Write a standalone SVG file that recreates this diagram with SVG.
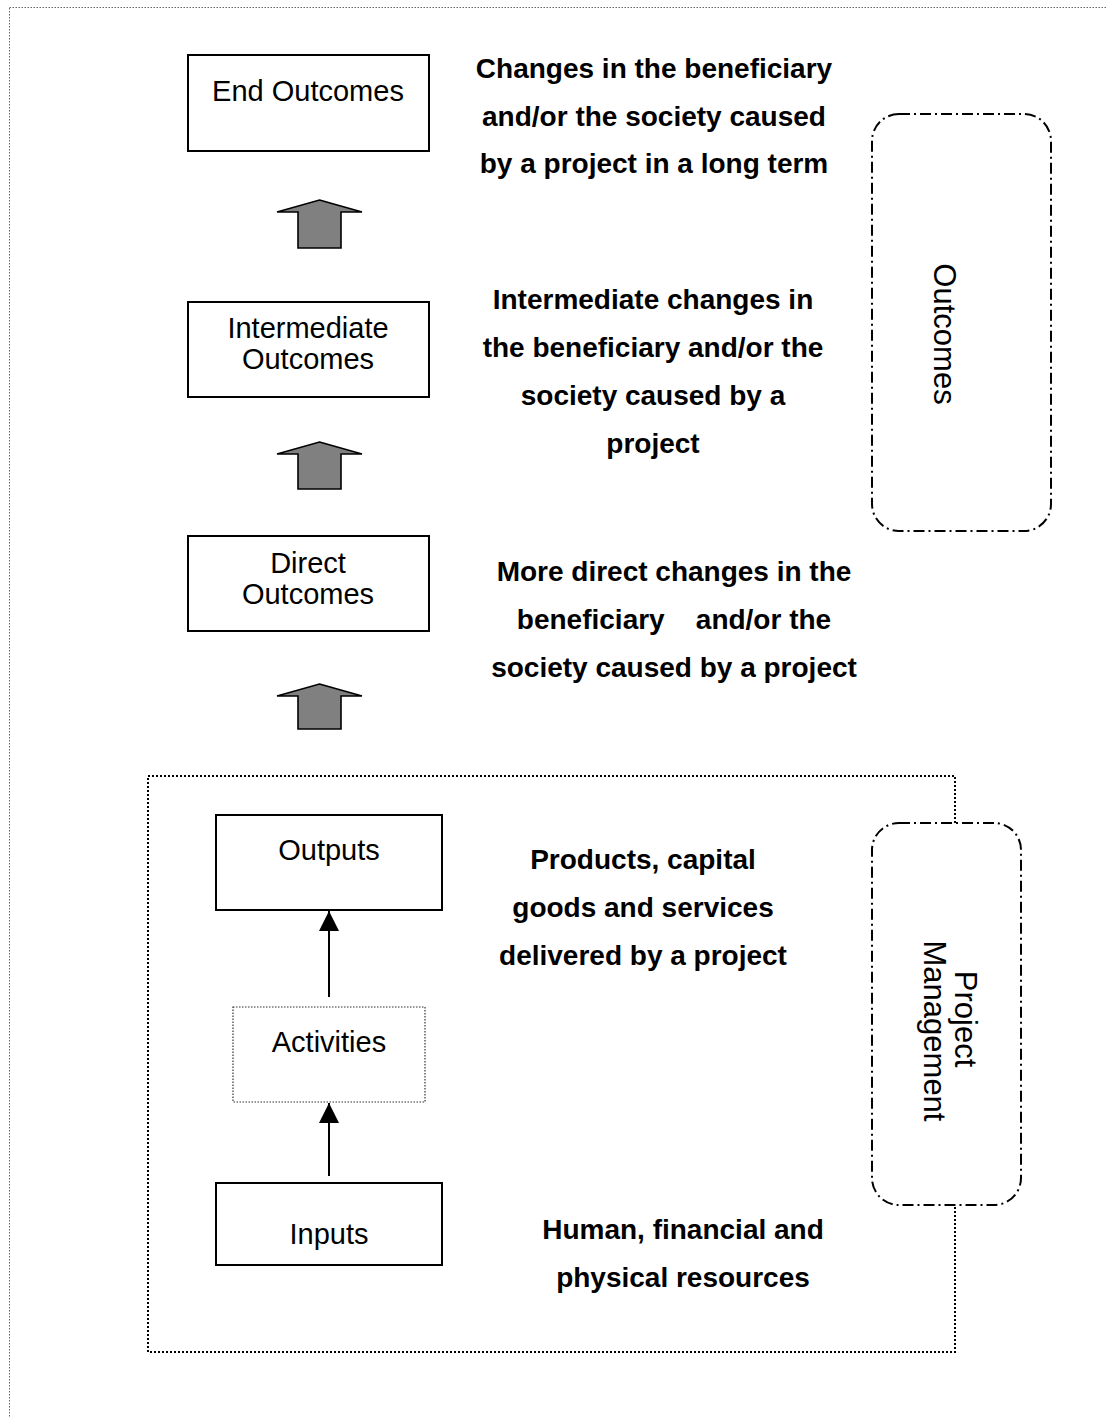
<svg xmlns="http://www.w3.org/2000/svg" width="1106" height="1418" viewBox="0 0 1106 1418">
<style>
.box{fill:#fff;stroke:#000;stroke-width:2}
.dotbox{fill:#fff;stroke:#333;stroke-width:1.2;stroke-dasharray:1.5 1.5}
.lbl{font-family:"Liberation Sans",Arial,sans-serif;font-size:29px;fill:#000;text-anchor:middle}
.desc{font-family:"Liberation Sans",Arial,sans-serif;font-size:28px;font-weight:bold;fill:#000;text-anchor:middle}
.vlbl{font-family:"Liberation Sans",Arial,sans-serif;font-size:31px;fill:#000;text-anchor:middle}
.group{fill:none;stroke:#000;stroke-width:2;stroke-dasharray:11 4 2 4}
.blk{fill:#808080;stroke:#000;stroke-width:1.6;stroke-linejoin:miter}
.conn{stroke:#000;stroke-width:2;fill:none}
</style>
<defs>
<marker id="ah" markerWidth="20" markerHeight="22" refX="20" refY="10" orient="auto" markerUnits="userSpaceOnUse" viewBox="0 0 20 20">
<path d="M0,0 L20,10 L0,20 Z" fill="#000"/>
</marker>
</defs>
<rect x="9.5" y="7.5" width="1110" height="1420" fill="none" stroke="#666" stroke-width="1" stroke-dasharray="1.5 1.5"/>
<g id="project-frame">
<path d="M955,823 V776 H148 V1352 H955 V1205" fill="none" stroke="#000" stroke-width="2" stroke-dasharray="2 2"/>
</g>
<g id="outcomes-group">
<rect class="group" x="872" y="114" width="179" height="417" rx="27" ry="27"/>
<text class="vlbl" transform="translate(934,334) rotate(90)">Outcomes</text>
</g>
<g id="pm-group">
<rect class="group" x="872" y="823" width="149" height="382" rx="27" ry="27"/>
<text class="vlbl" transform="translate(955,1019) rotate(90)">Project</text>
<text class="vlbl" transform="translate(924,1031) rotate(90)">Management</text>
</g>
<g id="end-outcomes">
<rect class="box" x="188" y="55" width="241" height="96"/>
<text class="lbl" x="308" y="101">End Outcomes</text>
</g>
<g id="intermediate-outcomes">
<rect class="box" x="188" y="302" width="241" height="95"/>
<text class="lbl" x="308" y="338">Intermediate</text>
<text class="lbl" x="308" y="369">Outcomes</text>
</g>
<g id="direct-outcomes">
<rect class="box" x="188" y="536" width="241" height="95"/>
<text class="lbl" x="308" y="573">Direct</text>
<text class="lbl" x="308" y="604">Outcomes</text>
</g>
<g id="outputs">
<rect class="box" x="216" y="815" width="226" height="95"/>
<text class="lbl" x="329" y="860">Outputs</text>
</g>
<g id="activities">
<rect class="dotbox" x="233" y="1007" width="192" height="95"/>
<text class="lbl" x="329" y="1052">Activities</text>
</g>
<g id="inputs">
<rect class="box" x="216" y="1183" width="226" height="82"/>
<text class="lbl" x="329" y="1244">Inputs</text>
</g>
<g id="desc-end">
<text class="desc" x="654" y="78">Changes in the beneficiary</text>
<text class="desc" x="654" y="126">and/or the society caused</text>
<text class="desc" x="654" y="173">by a project in a long term</text>
</g>
<g id="desc-intermediate">
<text class="desc" x="653" y="309">Intermediate changes in</text>
<text class="desc" x="653" y="357">the beneficiary and/or the</text>
<text class="desc" x="653" y="405">society caused by a</text>
<text class="desc" x="653" y="453">project</text>
</g>
<g id="desc-direct">
<text class="desc" x="674" y="581">More direct changes in the</text>
<text class="desc" x="674" y="629" style="white-space:pre">beneficiary    and/or the</text>
<text class="desc" x="674" y="677">society caused by a project</text>
</g>
<g id="desc-outputs">
<text class="desc" x="643" y="869">Products, capital</text>
<text class="desc" x="643" y="917">goods and services</text>
<text class="desc" x="643" y="965">delivered by a project</text>
</g>
<g id="desc-inputs">
<text class="desc" x="683" y="1239">Human, financial and</text>
<text class="desc" x="683" y="1287">physical resources</text>
</g>
<g id="connectors">
<path class="blk" d="M319.5,200 L362,212 L341,212 L341,248 L298,248 L298,212 L277,212 Z"/>
<path class="blk" d="M319.5,442 L362,454 L341,454 L341,489 L298,489 L298,454 L277,454 Z"/>
<path class="blk" d="M319.5,684 L362,696 L341,696 L341,729 L298,729 L298,696 L277,696 Z"/>
<line class="conn" x1="329" y1="997" x2="329" y2="911" marker-end="url(#ah)"/>
<line class="conn" x1="329" y1="1176" x2="329" y2="1103" marker-end="url(#ah)"/>
</g>
</svg>
